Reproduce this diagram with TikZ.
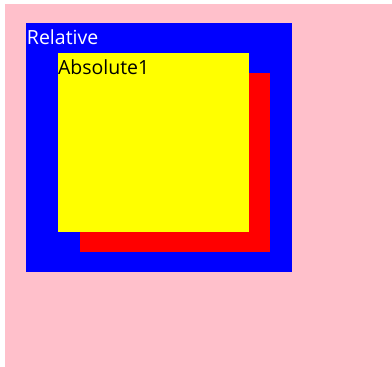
\documentclass[tikz,border=0pt]{standalone}
\usepackage{fontspec}
\setmainfont{Open Sans}
\usetikzlibrary{positioning}
\definecolor{bgpink}{RGB}{255,192,203}
\definecolor{boxblue}{RGB}{0,0,255}
\definecolor{boxred}{RGB}{255,0,0}
\definecolor{boxyellow}{RGB}{255,255,0}

\begin{document}
\begin{tikzpicture}[x=1pt, y=-1pt, font=\fontsize{19.5}{22}\selectfont,
  panel/.style={inner sep=0pt, outer sep=0pt, anchor=north west},
  caption/.style={inner sep=0pt, outer sep=0pt, anchor=base west}]
\useasboundingbox (0,0) rectangle (392,367);

% Background
\fill[bgpink] (5,4) rectangle (392,367);

% Relative box
\node[panel, fill=boxblue, minimum width=266pt, minimum height=249pt] (relative) at (26,23) {};
\node[caption, text=white] (rellabel) at (27,44) {Relative};

% Shadow box
\node[panel, fill=boxred, minimum width=190pt, minimum height=179pt] (shadow) at (80,73) {};

% Absolute box
\node[panel, fill=boxyellow, minimum width=191pt, minimum height=179pt] (absolute) at (58,53) {};
\node[caption, text=black] (abslabel) at (58,74) {Absolute1};
\end{tikzpicture}
\end{document}
